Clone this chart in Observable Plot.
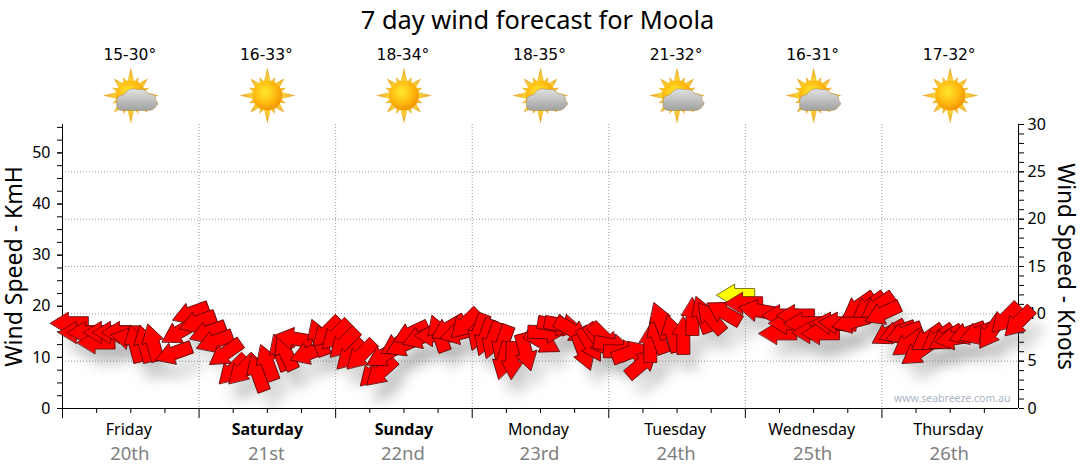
<!DOCTYPE html>
<html><head><meta charset="utf-8">
<script src="https://cdn.jsdelivr.net/npm/d3@7"></script>
<script src="https://cdn.jsdelivr.net/npm/@observablehq/plot@0.6"></script>
<style>html,body{margin:0;padding:0;background:#fff}svg{display:block}</style>
</head><body><div id="chart"></div>
<script>
const title = "7 day wind forecast for Moola";
const dayNames = ["Friday","Saturday","Sunday","Monday","Tuesday","Wednesday","Thursday"];
const dayDates = ["20th","21st","22nd","23rd","24th","25th","26th"];
const tempRanges = ["15-30°","16-33°","18-34°","18-35°","21-32°","16-31°","17-32°"];
const dayIcons = ["cloud","sun","sun","cloud","cloud","cloud","sun"];
const weekend = ["Saturday","Sunday"];
const hours = [1.2,2.6,4.2,5.9,7,8.6,10.2,11.8,12.8,14.5,15.9,19.5,20.4,22.5,23.7,25.5,26.7,28.6,29.9,31.6,34.3,36,38.3,39.2,40.6,43.2,45,46.4,48,49.4,50.6,52.4,54.7,55.9,56.4,58.9,59.9,61.2,62.9,65.2,66.1,67.8,69.6,70.7,73.1,74.3,75.6,77.3,77.5,79,81.4,84.4,85.1,86.8,88,89.6,91.6,92.8,94.2,95.3,96.7,98.4,99.8,101.9,103.3,104.6,105.1,107.2,109.1,110.7,112.5,113.9,116.2,118.3,119.7,122.1,126.2,125.7,127.4,128.8,130.1,131.5,133.2,135,136.2,138.5,139.9,141.7,143.2,144.1,145.2,146.7,147.8,148.7,150.3,152,153.8,155.2,156.6,159,160.8,163.1,165.7,168];
const speedKmh = [16.7,14.9,14.9,12.9,14.9,14.9,14.9,13.7,12.7,12.7,12.9,10.8,14.9,18.6,16.9,14.9,13.1,10.8,7.5,7.5,6.9,9,11,11,13.7,10.8,13.9,14.9,14.3,12.7,10.4,10.4,7.1,7.1,10.4,12.7,12.4,14.7,13.9,14.3,14.7,15.7,14.7,16.5,14.9,13.9,13.3,12.7,9.3,9.4,11,13,14.9,16.3,16.3,15.3,11,12.5,13.3,13.7,12.4,11.2,11,8.8,12.7,14.3,17.2,14.7,14.3,18,18.4,17.8,18.8,22.2,20.6,19.2,18.2,14.7,16.7,18.2,16.7,14.9,14.7,16.7,16.7,16.9,20,20,20,18.6,14.7,14.9,14.7,12.7,11,13.7,13.7,13.7,13.7,14.7,14.7,14.9,17.6,16.9];
const heading = [270,270,270,270,270,270,270,282,345,345,345,250,240,250,250,250,250,235,225,225,340,340,340,335,280,250,340,225,225,225,225,225,225,228,240,240,245,245,250,270,340,240,255,225,200,200,200,200,195,183,165,120,92,100,100,120,160,150,145,135,100,90,70,50,0,340,340,345,0,0,340,320,300,270,270,280,270,270,270,270,270,270,270,275,275,255,235,235,235,245,240,250,250,235,235,235,235,240,260,250,250,215,225,225];
const nowIndex = 73;
const knotTicks = [5,10,15,20,25,30];
const kmhTicks = [0,10,20,30,40,50];
const KMH_PER_KNOT = 1.852;
const HOURS_PER_DAY = 24;

const arrows = hours.map((h,i)=>({h, v:speedKmh[i], dir:heading[i], fill:i===nowIndex?"#ffff00":"#ff0000", stroke:i===nowIndex?"#555500":"#5a0000"}));
const days = dayNames.map((name,i)=>({mid:(i+.5)*HOURS_PER_DAY,name,date:dayDates[i],temp:tempRanges[i],icon:dayIcons[i]}));

const blockArrow = {draw(c,l){
  const headLen=18, headHalf=11, shaftHalf=6.5;
  c.moveTo(0,-l); c.lineTo(headHalf,-l+headLen); c.lineTo(shaftHalf,-l+headLen); c.lineTo(shaftHalf,0);
  c.lineTo(-shaftHalf,0); c.lineTo(-shaftHalf,-l+headLen); c.lineTo(-headHalf,-l+headLen); c.closePath();
}};

const rays = d3.range(16).map(i=>{const a=i*22.5,long=i%2===0,len=long?(i%4===0?28:24):20;const w=long?4:3;
  return `<polygon points="${-w},-12 0,${-len} ${w},-12" transform="translate(30 30) rotate(${a})" fill="url(#r)"/>`}).join("");
const sunSvg = `<defs><linearGradient id="r" x1="0" y1="0" x2="0" y2="1"><stop offset="0" stop-color="#e8a030"/><stop offset="1" stop-color="#ffe040"/></linearGradient><radialGradient id="d" cx=".42" cy=".38" r=".65"><stop offset="0" stop-color="#ffe830"/><stop offset=".6" stop-color="#ffb810"/><stop offset="1" stop-color="#f09000"/></radialGradient><linearGradient id="c" x1="0" y1="0" x2="0" y2="1"><stop offset="0" stop-color="#e2e2e2"/><stop offset="1" stop-color="#a0a0a0"/></linearGradient></defs>${rays}<circle cx="30" cy="30" r="15" fill="url(#d)"/>`;
const cloudSvg = `<path fill="url(#c)" stroke="#b09040" stroke-width=".6" d="M22 45 Q15 45 16 37 Q15 30 23 29 Q28 21 37 24 Q45 23 47 28 Q56 28 55 35 Q59 38 55 41 Q53 45 47 45Z"/>`;
const uri = s=>"data:image/svg+xml,"+encodeURIComponent(`<svg xmlns="http://www.w3.org/2000/svg" viewBox="0 0 60 60" width="60" height="60">${s}</svg>`);
const iconSrc = {sun:uri(sunSvg), cloud:uri(sunSvg+cloudSvg)};

const FONT = "'Noto Sans',sans-serif";
const chart = Plot.plot({
  width:1080, height:475, marginLeft:62, marginRight:62, marginTop:124, marginBottom:67,
  style:{fontFamily:FONT, fontSize:"16px", color:"#000", background:"#fff", overflow:"visible"},
  x:{domain:[0,168], axis:null},
  y:{domain:[0,30*KMH_PER_KNOT], axis:null},
  marks:[
    Plot.ruleY(knotTicks.slice(0,5).map(k=>k*KMH_PER_KNOT),{stroke:"#999",strokeWidth:1,strokeDasharray:"1,2"}),
    Plot.ruleX(d3.range(1,7).map(d=>d*HOURS_PER_DAY),{stroke:"#999",strokeWidth:1,strokeDasharray:"1,2"}),
    Plot.vector(arrows,{x:"h",y:"v",rotate:"dir",length:38,shape:blockArrow,anchor:"middle",fill:"#888",stroke:"none",fillOpacity:.28,dx:10,dy:17,imageFilter:"blur(6px)"}),
    Plot.axisX({ticks:d3.range(0,168,6).filter(h=>h%24),tickSize:5,tickFormat:()=>"",stroke:"#000",label:null}),
    Plot.axisX({ticks:d3.range(0,168,24),tickSize:10,tickFormat:()=>"",stroke:"#000",label:null}),
    Plot.axisY({ticks:d3.range(0,55.6,2.5),tickSize:5,tickFormat:()=>"",stroke:"#000",anchor:"left",label:null}),
    Plot.axisY({ticks:kmhTicks,tickSize:5,tickPadding:7,anchor:"left",fontSize:16,stroke:"#000",label:null}),
    Plot.axisY({ticks:d3.range(0,31).map(k=>k*KMH_PER_KNOT),tickSize:5,tickFormat:()=>"",stroke:"#000",anchor:"right",label:null}),
    Plot.axisY({ticks:[0,...knotTicks].map(k=>k*KMH_PER_KNOT),tickFormat:d=>Math.round(d/KMH_PER_KNOT),tickSize:5,tickPadding:4,anchor:"right",fontSize:16,stroke:"#000",label:null}),
    Plot.ruleX([0,168],{stroke:"#000"}),
    Plot.ruleY([0],{stroke:"#000"}),
    Plot.vector(arrows,{x:"h",y:"v",rotate:"dir",length:38,shape:blockArrow,anchor:"middle",fill:"fill",stroke:"stroke",strokeWidth:.8}),
    Plot.text([title],{frameAnchor:"top",dx:-3,dy:-114,fontSize:25.4,fill:"#000"}),
    Plot.text(days,{x:"mid",text:"temp",frameAnchor:"top",dx:-1,dy:-76,fontSize:15.5,fontFamily:"'DejaVu Sans'",fill:"#000"}),
    Plot.image(days,{x:"mid",frameAnchor:"top",dy:-29,width:60,height:60,src:d=>iconSrc[d.icon]}),
    Plot.text(days.filter(d=>!weekend.includes(d.name)),{x:"mid",text:"name",frameAnchor:"bottom",dy:26,dx:-2,fontSize:16,fill:"#000"}),
    Plot.text(days.filter(d=>weekend.includes(d.name)),{x:"mid",text:"name",frameAnchor:"bottom",dy:26,fontSize:16,fontWeight:"bold",fill:"#000"}),
    Plot.text(days,{x:"mid",text:"date",frameAnchor:"bottom",dx:-1,dy:51,fontSize:18.5,fill:"#808080"}),
    Plot.text(["Wind Speed - KmH"],{frameAnchor:"left",textAnchor:"middle",dx:-48,rotate:-90,fontSize:23,fill:"#000"}),
    Plot.text(["Wind Speed - Knots"],{frameAnchor:"right",textAnchor:"middle",dx:47,rotate:90,fontSize:22.7,fill:"#000"}),
    Plot.text(["www.seabreeze.com.au"],{frameAnchor:"bottom-right",dx:-8,dy:-7,fontSize:10.5,fill:"#aab4c4",letterSpacing:"0.7px"})
  ]
});
document.getElementById("chart").appendChild(chart);
</script></body></html>
